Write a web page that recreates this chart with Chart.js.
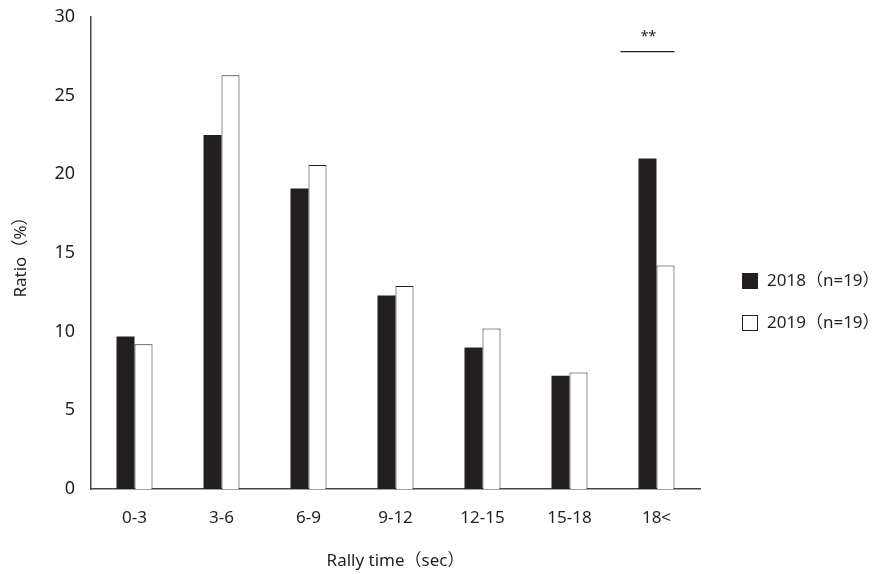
<!DOCTYPE html>
<html>
<head>
<meta charset="utf-8">
<script src="https://cdn.jsdelivr.net/npm/chart.js@4/dist/chart.umd.min.js"></script>
<style>
  html, body { margin: 0; padding: 0; background: #fff; }
  #wrap { width: 874px; height: 574px; position: relative; }
</style>
</head>
<body>
<div id="wrap"><canvas id="myChart" width="874" height="574"></canvas></div>
<script>
const categories = ["0-3", "3-6", "6-9", "9-12", "12-15", "15-18", "18<"]
const values2018 = [9.7, 22.5, 19.1, 12.3, 9.0, 7.2, 21.0]
const values2019 = [9.2, 26.3, 20.6, 12.9, 10.2, 7.4, 14.2]
const seriesLabels = ["2018（n=19）", "2019（n=19）"]
const yTicks = [0, 5, 10, 15, 20, 25, 30]
const sigMark = { index: 6, text: "**", lineAt: 27.8, textAt: 28.7 }

const ink = "#231f20"
const fontFamily = "'Noto Sans', 'Noto Sans CJK JP', sans-serif"

// legend drawn by hand so it can sit lower than chart.js would put it
const sideLegend = {
    id: "sideLegend",
    afterDraw(chart) {
        const ctx = chart.ctx
        const rows = [
            { y: 281, fill: ink },
            { y: 323, fill: "#fff" }
        ]
        ctx.save()
        ctx.font = "17px " + fontFamily
        ctx.textBaseline = "middle"
        rows.forEach((row, i) => {
            ctx.fillStyle = row.fill
            ctx.strokeStyle = ink
            ctx.lineWidth = 1
            ctx.fillRect(742.5, row.y - 7.5, 15, 15)
            ctx.strokeRect(742.5, row.y - 7.5, 15, 15)
            ctx.fillStyle = ink
            ctx.fillText(seriesLabels[i], 767, row.y)
        })
        ctx.restore()
    }
}

const significance = {
    id: "significance",
    afterDatasetsDraw(chart) {
        const ctx = chart.ctx
        const x = chart.scales.x.getPixelForValue(sigMark.index)
        const yLine = chart.scales.y.getPixelForValue(sigMark.lineAt)
        const yText = chart.scales.y.getPixelForValue(sigMark.textAt)
        ctx.save()
        ctx.strokeStyle = ink
        ctx.lineWidth = 1.2
        ctx.beginPath()
        ctx.moveTo(x - 36, yLine)
        ctx.lineTo(x + 18, yLine)
        ctx.stroke()
        ctx.fillStyle = ink
        ctx.font = "14px " + fontFamily
        ctx.textAlign = "center"
        ctx.textBaseline = "middle"
        ctx.fillText(sigMark.text, x - 8, yText)
        ctx.restore()
    }
}

Chart.defaults.font.family = fontFamily
Chart.defaults.color = ink

new Chart(document.getElementById("myChart"), {
    type: "bar",
    data: {
        labels: categories,
        datasets: [
            {
                label: seriesLabels[0],
                data: values2018,
                backgroundColor: ink,
                borderColor: ink,
                borderWidth: 0,
                categoryPercentage: 0.414,
                barPercentage: 1
            },
            {
                label: seriesLabels[1],
                data: values2019,
                backgroundColor: "#fff",
                borderColor: ink,
                borderWidth: 1,
                categoryPercentage: 0.414,
                barPercentage: 1
            }
        ]
    },
    options: {
        responsive: false,
        animation: false,
        layout: {
            padding: { left: 0, right: 174, top: 17, bottom: 0 }
        },
        plugins: {
            legend: { display: false },
            tooltip: { enabled: false }
        },
        scales: {
            x: {
                grid: { display: false, drawTicks: false },
                border: { color: "#444", width: 1.5 },
                ticks: { font: { size: 17 }, padding: 19, color: ink },
                title: {
                    display: true,
                    text: "Rally time（sec）",
                    font: { size: 17 },
                    color: ink,
                    padding: { top: 11, bottom: 3 }
                },
                afterFit(scale) { scale.height = 85 }
            },
            y: {
                min: 0,
                max: 30,
                afterBuildTicks(scale) { scale.ticks = yTicks.map(v => ({ value: v })) },
                grid: { display: false, drawTicks: false },
                border: { color: "#444", width: 1.5 },
                ticks: { font: { size: 18 }, padding: 16, color: ink },
                title: {
                    display: true,
                    text: "Ratio（%）",
                    font: { size: 17 },
                    color: ink,
                    padding: { top: 11, bottom: 0 }
                },
                afterFit(scale) {
                    scale.width = 91
                    scale.paddingTop = 0
                    scale.paddingBottom = 0
                }
            }
        }
    },
    plugins: [sideLegend, significance]
})
</script>
</body>
</html>
